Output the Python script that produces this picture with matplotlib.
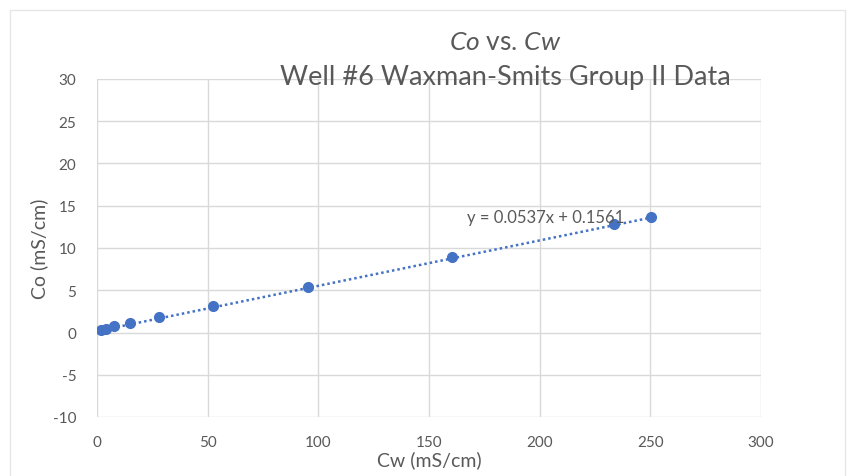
import matplotlib
matplotlib.use('Agg')
import matplotlib.pyplot as plt
from matplotlib.patches import Rectangle
import numpy as np

# Co vs Cw data
cw = [1.8, 4.0, 7.5, 15.0, 28.0, 52.5, 95.5, 160.5, 233.5, 250.5]
co = [0.28, 0.47, 0.75, 1.07, 1.8, 3.1, 5.4, 8.9, 12.8, 13.7]

# Trendline coefficients (from the Excel label)
slope = 0.0537
intercept = 0.1561
eq_label = 'y = 0.0537x + 0.1561'

x_ticks = [0, 50, 100, 150, 200, 250, 300]
y_ticks = [-10, -5, 0, 5, 10, 15, 20, 25, 30]

blue = '#4472C4'
grey_text = '#595959'
grid_col = '#d9d9d9'

plt.rcParams['font.family'] = ['Lato', 'DejaVu Sans']
plt.rcParams['axes.unicode_minus'] = False
plt.rcParams['mathtext.fontset'] = 'custom'
plt.rcParams['mathtext.rm'] = 'Lato'
plt.rcParams['mathtext.it'] = 'Lato:italic'

fig = plt.figure(figsize=(8.48, 4.77), dpi=100)
ax = fig.add_axes([97 / 848, 1 - 418 / 477, 664 / 848, 338 / 477])

# Chart area border
fig.patches.append(Rectangle((10 / 848, -0.02), 835 / 848, 1.02 - 11 / 477,
                             transform=fig.transFigure, fill=False,
                             edgecolor='#e6e6e6', lw=1))

# Trendline over data range
xs = np.array([min(cw), max(cw)])
ax.plot(xs, slope * xs + intercept, color=blue, lw=1.8,
        linestyle=(0, (1, 1.2)), zorder=2)
ax.plot(cw, co, 'o', color=blue, markersize=7, zorder=3)

ax.text(167, 13.7, eq_label, fontsize=12, color=grey_text, ha='left', va='center')

ax.set_xlim(0, 300)
ax.set_ylim(-10, 30)
ax.set_xticks(x_ticks)
ax.set_yticks(y_ticks)
ax.grid(True, color=grid_col, lw=1)
ax.set_axisbelow(True)
for s in ax.spines.values():
    s.set_visible(False)
ax.tick_params(length=0, labelsize=11, colors=grey_text)
ax.tick_params(axis='x', pad=13)
ax.tick_params(axis='y', pad=15)

ax.set_xlabel('Cw (mS/cm)', fontsize=14, color=grey_text, labelpad=1)
ax.set_ylabel('Co (mS/cm)', fontsize=14, color=grey_text, labelpad=3)

# Titles
fig.text(505 / 848, 1 - 42 / 477, r'$\mathit{Co}$ vs. $\mathit{Cw}$', fontsize=19,
         color=grey_text, ha='center', va='center')
fig.text(505 / 848, 1 - 77 / 477, 'Well #6 Waxman-Smits Group II Data', fontsize=19.5,
         color=grey_text, ha='center', va='center')

fig.savefig('out.png', dpi=100)
